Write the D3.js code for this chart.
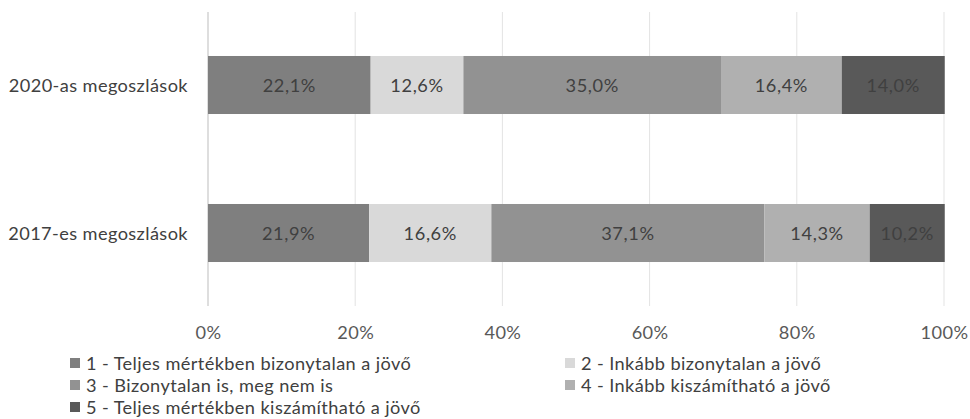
<!DOCTYPE html>
<html><head><meta charset="utf-8">
<script src="https://cdn.jsdelivr.net/npm/d3@7"></script>
<style>body{margin:0;background:#fff}svg{display:block}</style>
</head><body>
<svg id="c" width="970" height="419"></svg>
<script>
const categories = ["2020-as megoszlások", "2017-es megoszlások"];
const seriesNames = ["1 - Teljes mértékben bizonytalan a jövő", "2 - Inkább bizonytalan a jövő", "3 - Bizonytalan is, meg nem is", "4 - Inkább kiszámítható a jövő", "5 - Teljes mértékben kiszámítható a jövő"];
const values2020 = [22.1, 12.6, 35.0, 16.4, 14.0];
const values2017 = [21.9, 16.6, 37.1, 14.3, 10.2];
const colors = ["#7f7f7f", "#d9d9d9", "#929292", "#b0b0b0", "#595959"];
const ticks = [0, 20, 40, 60, 80, 100];

const svg = d3.select("#c");
const font = "Lato, 'Open Sans', sans-serif";
const fs = 18.2;
const ls = "0.4px";
const x = d3.scaleLinear().domain([0, 100]).range([208, 944]);
const y = d3.scaleBand().domain(categories).range([11, 307]).paddingInner(0.608).paddingOuter(0.304);

// gridlines
svg.append("g").selectAll("line").data(ticks.slice(1)).join("line")
  .attr("x1", d => x(d)).attr("x2", d => x(d)).attr("y1", 12).attr("y2", 306)
  .attr("stroke", "#e3e3e3").attr("stroke-width", 1);
// axis line
svg.append("line").attr("x1", x(0)).attr("x2", x(0)).attr("y1", 12).attr("y2", 306)
  .attr("stroke", "#c8c8c8").attr("stroke-width", 1.2);

const data = [values2020, values2017];
data.forEach((vals, i) => {
  let acc = 0;
  const segs = vals.map((v, j) => { const s = {x0: acc, x1: acc + v, v, j}; acc += v; return s; });
  const g = svg.append("g");
  g.selectAll("rect").data(segs).join("rect")
    .attr("x", d => x(d.x0)).attr("width", d => x(d.x1) - x(d.x0))
    .attr("y", y(categories[i])).attr("height", y.bandwidth())
    .attr("fill", d => colors[d.j]);
  g.selectAll("text").data(segs).join("text")
    .attr("x", d => (x(d.x0) + x(d.x1)) / 2).attr("y", y(categories[i]) + y.bandwidth() / 2)
    .attr("text-anchor", "middle").attr("dominant-baseline", "central")
    .attr("font-family", font).attr("font-size", fs).attr("letter-spacing", "0.6px").attr("fill", "#404040")
    .text(d => d.v.toFixed(1).replace(".", ",") + "%");
});

// category labels
svg.append("g").selectAll("text").data(categories).join("text")
  .attr("x", 188).attr("y", d => y(d) + y.bandwidth() / 2)
  .attr("text-anchor", "end").attr("dominant-baseline", "central")
  .attr("font-family", font).attr("font-size", fs).attr("letter-spacing", ls).attr("fill", "#404040")
  .text(d => d);

// x tick labels
const xAxis = d3.axisBottom(x).tickValues(ticks).tickSize(0).tickFormat(d => d + "%");
const ax = svg.append("g").attr("transform", "translate(0,323)").call(xAxis);
ax.select(".domain").remove();
ax.selectAll("text").attr("font-family", font).attr("font-size", fs).attr("letter-spacing", ls).attr("fill", "#595959");

// legend
const legPos = [[70, 363], [565, 363], [70, 385], [565, 385], [70, 407]];
const leg = svg.append("g").selectAll("g").data(seriesNames).join("g")
  .attr("transform", (d, i) => `translate(${legPos[i][0]},${legPos[i][1]})`);
leg.append("rect").attr("x", 0).attr("y", -5).attr("width", 10).attr("height", 10)
  .attr("fill", (d, i) => colors[i]);
leg.append("text").attr("x", 16).attr("y", 0).attr("dominant-baseline", "central")
  .attr("font-family", font).attr("font-size", fs).attr("letter-spacing", ls).attr("fill", "#404040").text(d => d);
</script>
</body></html>
